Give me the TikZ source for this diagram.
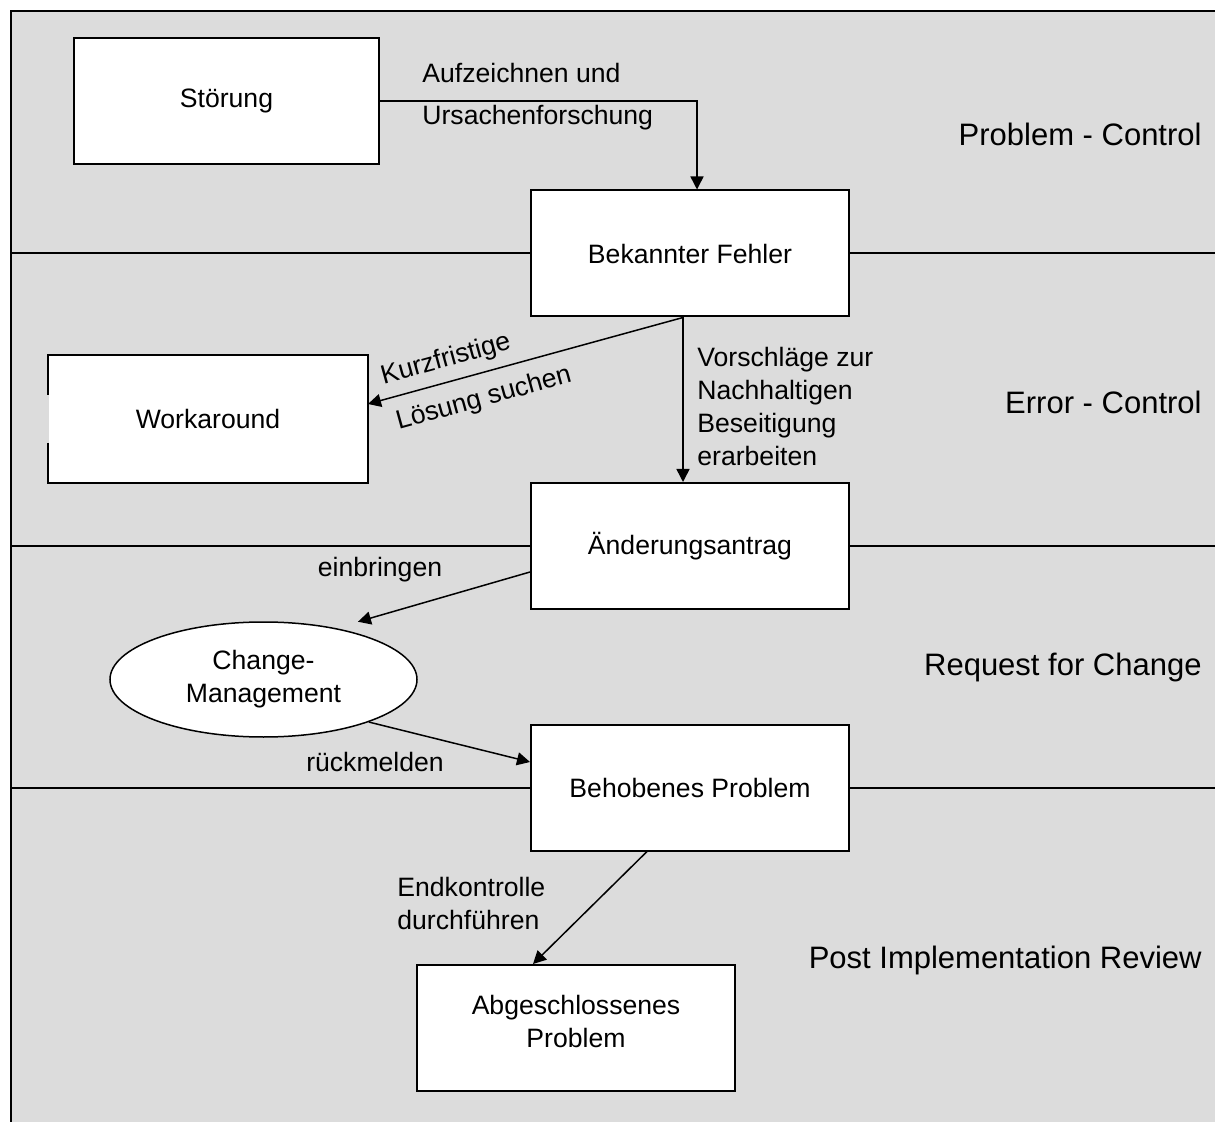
\documentclass[tikz,border=0pt]{standalone}
\usepackage{fontspec}
\setmainfont{Liberation Sans}
\usetikzlibrary{arrows.meta,shapes.geometric}
\definecolor{bg}{HTML}{DCDCDC}
\begin{document}
\begin{tikzpicture}[x=0.5pt,y=-0.5pt,
  txt/.style={font=\fontsize{13.3}{16.5}\selectfont},
  box/.style={txt,draw=black,fill=white,line width=1pt,minimum width=159pt,minimum height=63pt,inner sep=0pt,align=center},
  lbl/.style={txt,inner sep=0pt},
  sect/.style={font=\fontsize{15.5}{19}\selectfont,inner sep=0pt,anchor=east},
  arr/.style={line width=0.75pt,-{Triangle[length=6.5pt,width=6.5pt]}},
  sepline/.style={line width=1pt}]
\useasboundingbox (0,0) rectangle (1215,1122);
% background and lanes
\fill[bg] (11,11) rectangle (1215,1122);
\draw[sepline] (11,1122) -- (11,11) -- (1215,11);
\draw[sepline] (11,253) -- (1215,253);
\draw[sepline] (11,546) -- (1215,546);
\draw[sepline] (11,788) -- (1215,788);
% section titles
\node[sect] (s1) at (1202,134) {Problem - Control};
\node[sect] (s2) at (1202,402) {Error - Control};
\node[sect] (s3) at (1202,667) {Request for Change};
\node[sect] (s4) at (1202,960) {Post Implementation Review};
% nodes
\node[box,minimum width=152.5pt,text depth=3pt] (stoer) at (226.5,101) {Störung};
\node[box] (bek) at (690,253.5) {Bekannter Fehler};
\node[box,draw=none] (work) at (208,419) {Workaround};
\draw[line width=1pt] ([yshift=-12pt]work.west) -- (work.south west) -- (work.south east) -- (work.north east) -- (work.north west) -- ([yshift=12pt]work.west);
\node[box] (aend) at (690,546) {Änderungsantrag};
\node[txt,ellipse,draw=black,fill=white,line width=0.75pt,minimum width=153.5pt,minimum height=57.5pt,inner sep=0pt,align=center] (cm) at (263.5,679.5) {Change-\\Management};
\node[box] (beh) at (690,787.5) {Behobenes Problem};
\node[box,text depth=7pt] (abg) at (576,1028) {Abgeschlossenes\\Problem};
% connectors
\draw[arr] (stoer.east) -| ([xshift=3.5pt]bek.north);
\draw[arr] ([xshift=-3.5pt]bek.south) -- ([yshift=7.5pt]work.east);
\draw[arr] ([xshift=-3.5pt]bek.south) -- ([xshift=-3.5pt]aend.north);
\draw[arr] ([yshift=-13pt]aend.west) -- ([shift={(10,-9)}]cm.30);
\draw[arr] (cm.-22.3) -- ([yshift=12.75pt]beh.west);
\draw[arr] ([xshift=-21.5pt]beh.south) -- ([xshift=-21.5pt]abg.north);
% labels
\node[lbl,anchor=west,align=left] (l1) at (422,97) {Aufzeichnen und\\[4.5pt]Ursachenforschung};
\node[lbl,rotate=15.4] (l2a) at (446,360) {Kurzfristige};
\node[lbl,rotate=15.4] (l2b) at (484,399) {Lösung suchen};
\node[lbl,anchor=west,align=left] (l3) at (697,406) {Vorschläge zur\\Nachhaltigen\\Beseitigung\\erarbeiten};
\node[lbl] (l4) at (380,570) {einbringen};
\node[lbl] (l5) at (375,762) {rückmelden};
\node[lbl,anchor=west,align=left] (l6) at (397,903) {Endkontrolle\\durchführen};
\end{tikzpicture}
\end{document}
